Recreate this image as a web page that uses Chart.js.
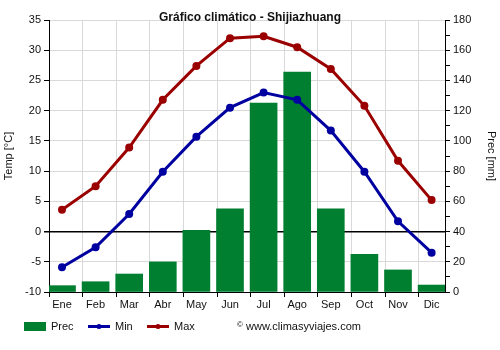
<!DOCTYPE html>
<html>
<head>
<meta charset="utf-8">
<script src="https://cdn.jsdelivr.net/npm/chart.js@4.4.1/dist/chart.umd.min.js"></script>
<style>
  body { margin: 0; background: #fff; }
  #wrap { width: 500px; height: 350px; }
</style>
</head>
<body>
<div id="wrap"><canvas id="climaCanvas" width="500" height="350"></canvas></div>
<script>
let months = ['Ene', 'Feb', 'Mar', 'Abr', 'May', 'Jun', 'Jul', 'Ago', 'Sep', 'Oct', 'Nov', 'Dic'];
let precMm = [4.2, 6.8, 11.9, 19.9, 40.8, 55, 125, 145.6, 55, 25, 14.6, 4.6];
let tempMin = [-5.9, -2.6, 2.9, 9.9, 15.7, 20.5, 23.0, 21.8, 16.7, 9.9, 1.7, -3.5];
let tempMax = [3.6, 7.5, 13.9, 21.8, 27.4, 32.0, 32.3, 30.5, 26.9, 20.8, 11.7, 5.2];

let chartTitle = 'Gráfico climático - Shijiazhuang';
let siteText = 'www.climasyviajes.com';

let green = '#007f31';
let blue = '#0000a0';
let red = '#9b0000';
let fontFamily = "'Liberation Sans', Arial, sans-serif";

// each month gets a slot: bar sits at the left of the slot, gap on the right
let slotLeft = -13 / 33.6;
let gridPositions = [];
for (let i = 0; i < months.length; i++) {
    gridPositions.push(slotLeft + i);
}

function toPoints(values) {
    return values.map((v, i) => ({ x: i, y: v }));
}

let ctx = document.getElementById('climaCanvas').getContext('2d');

let extrasPlugin = {
    id: 'extras',
    afterDraw(chart) {
        let c = chart.ctx;
        c.save();
        c.fillStyle = '#111';
        c.font = 'bold 12px ' + fontFamily;
        c.textAlign = 'center';
        c.textBaseline = 'alphabetic';
        c.fillText(chartTitle, 250, 21);

        let ly = 326.5;
        c.textAlign = 'left';
        c.textBaseline = 'middle';
        c.font = '11px ' + fontFamily;

        c.fillStyle = green;
        c.fillRect(24, 322, 22, 9);
        c.fillStyle = '#111';
        c.fillText('Prec', 51, ly);

        let legendLines = [[88, blue, 'Min'], [147, red, 'Max']];
        for (let i = 0; i < legendLines.length; i++) {
            let x0 = legendLines[i][0];
            c.strokeStyle = legendLines[i][1];
            c.lineWidth = 3;
            c.beginPath();
            c.moveTo(x0, ly);
            c.lineTo(x0 + 22, ly);
            c.stroke();
            c.fillStyle = legendLines[i][1];
            c.beginPath();
            c.arc(x0 + 11, ly, 2.5, 0, Math.PI * 2);
            c.fill();
            c.fillStyle = '#111';
            c.fillText(legendLines[i][2], x0 + 27, ly);
        }

        c.font = '8px ' + fontFamily;
        c.fillText('©', 237, ly - 2);
        c.font = '11px ' + fontFamily;
        c.fillText(siteText, 246, ly);
        c.restore();
    }
};

let climaChart = new Chart(ctx, {
    type: 'bar',
    data: {
        datasets: [
            {
                type: 'line',
                label: 'Max',
                data: toPoints(tempMax),
                yAxisID: 'y',
                borderColor: red,
                backgroundColor: red,
                borderWidth: 3,
                pointRadius: 4,
                pointBorderWidth: 0,
                order: 1
            },
            {
                type: 'line',
                label: 'Min',
                data: toPoints(tempMin),
                yAxisID: 'y',
                borderColor: blue,
                backgroundColor: blue,
                borderWidth: 3,
                pointRadius: 4,
                pointBorderWidth: 0,
                order: 1
            },
            {
                label: 'Prec',
                data: toPoints(precMm),
                yAxisID: 'y2',
                backgroundColor: green,
                barThickness: 27,
                order: 2
            }
        ]
    },
    options: {
        responsive: false,
        animation: false,
        layout: { padding: { top: 20, left: 0, right: 0, bottom: 0 } },
        plugins: {
            legend: { display: false },
            title: { display: false },
            tooltip: { enabled: false }
        },
        scales: {
            x: {
                type: 'linear',
                position: 'bottom',
                min: slotLeft,
                max: (445 - 62) / 33.6,
                bounds: 'data',
                offset: false,
                afterBuildTicks(scale) {
                    let values = gridPositions.concat(months.map((m, i) => i));
                    scale.ticks = values.map(v => ({ value: v }));
                },
                afterFit(scale) { scale.height = 58; },
                grid: {
                    offset: false,
                    color: c => Number.isInteger(c.tick.value) ? 'rgba(0,0,0,0)' : '#d9d9d9',
                    tickColor: c => Number.isInteger(c.tick.value) ? 'rgba(0,0,0,0)' : '#000',
                    tickLength: 5
                },
                border: { color: '#000', width: 1 },
                ticks: {
                    autoSkip: false,
                    maxRotation: 0,
                    padding: 1,
                    color: '#111',
                    font: { family: fontFamily, size: 11 },
                    callback: v => Number.isInteger(v) ? months[v] : ''
                }
            },
            y: {
                position: 'left',
                min: -10,
                max: 35,
                afterFit(scale) { scale.width = 49; },
                grid: {
                    color: c => c.tick.value === 0 ? '#000' : '#d9d9d9',
                    lineWidth: c => c.tick.value === 0 ? 1.5 : 1,
                    tickColor: '#000',
                    tickLength: 5
                },
                border: { color: '#000', width: 1 },
                ticks: {
                    stepSize: 5,
                    padding: 3,
                    color: '#111',
                    font: { family: fontFamily, size: 11 }
                },
                title: {
                    display: true,
                    text: 'Temp [°C]',
                    color: '#111',
                    font: { family: fontFamily, size: 11 },
                    padding: { top: 2, bottom: 0 }
                }
            },
            y2: {
                position: 'right',
                min: 0,
                max: 180,
                afterFit(scale) { scale.width = 55; },
                grid: {
                    drawOnChartArea: false,
                    tickColor: '#000',
                    tickLength: 5
                },
                border: { color: '#000', width: 1 },
                ticks: {
                    stepSize: 10,
                    autoSkip: false,
                    padding: 3,
                    color: '#111',
                    font: { family: fontFamily, size: 11 },
                    callback: v => v % 20 === 0 ? v : ''
                },
                title: {
                    display: true,
                    text: 'Prec [mm]',
                    color: '#111',
                    font: { family: fontFamily, size: 11 },
                    padding: { top: 2, bottom: 0 }
                }
            }
        }
    },
    plugins: [extrasPlugin]
});
</script>
</body>
</html>
